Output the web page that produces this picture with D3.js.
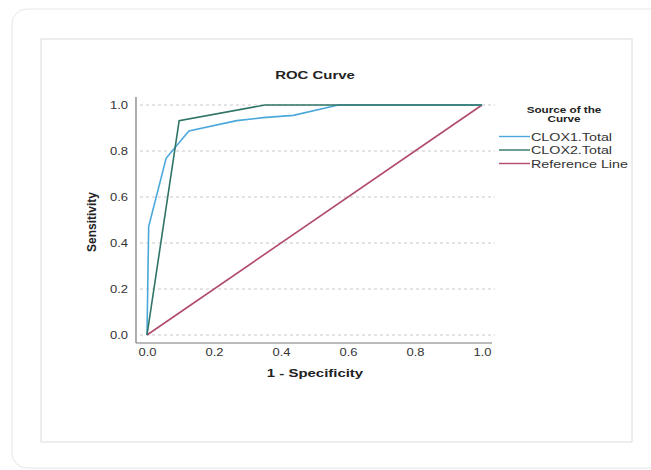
<!DOCTYPE html>
<html>
<head>
<meta charset="utf-8">
<script src="https://cdn.jsdelivr.net/npm/d3@7"></script>
<style>
  body { margin: 0; background: #fff; }
  svg text { font-family: "Liberation Sans", Arial, sans-serif; }
</style>
</head>
<body>
<script>
// data
const ticks = [0, 0.2, 0.4, 0.6, 0.8, 1.0];
const clox1Fpr = [0, 0.005, 0.057, 0.125, 0.268, 0.347, 0.437, 0.571, 1];
const clox1Sens = [0, 0.471, 0.768, 0.887, 0.932, 0.945, 0.955, 1, 1];
const clox2Fpr = [0, 0.096, 0.352, 1];
const clox2Sens = [0, 0.932, 1, 1];
const refFpr = [0, 1];
const refSens = [0, 1];
const seriesNames = ["CLOX1.Total", "CLOX2.Total", "Reference Line"];
const seriesColors = ["#4ba8dc", "#2f7466", "#b24a6c"];

const W = 651, H = 470;
const SX = 1.3; // the screenshot text looks stretched sideways
const svg = d3.select("body").append("svg").attr("width", W).attr("height", H);

// outer card + inner panel
svg.append("rect").attr("x", 12).attr("y", 9).attr("width", 700).attr("height", 459)
  .attr("rx", 15).attr("fill", "#fff").attr("stroke", "#e6e6e6");
svg.append("rect").attr("x", 41).attr("y", 39).attr("width", 591).attr("height", 403)
  .attr("fill", "#fff").attr("stroke", "#dcdcdc");

const x = d3.scaleLinear().domain([0, 1]).range([147, 482]);
const y = d3.scaleLinear().domain([0, 1]).range([335, 105]);

// text helper with sideways stretch
function label(g, tx, ty, str, size, anchor, bold, fill) {
  return g.append("text")
    .attr("transform", `translate(${tx},${ty}) scale(${SX},1)`)
    .attr("text-anchor", anchor).attr("font-size", size)
    .attr("font-weight", bold ? "bold" : "normal")
    .attr("fill", fill || "#222").text(str);
}

// gridlines
svg.append("g").selectAll("line").data(ticks).enter().append("line")
  .attr("x1", 140).attr("x2", 495)
  .attr("y1", d => y(d)).attr("y2", d => y(d))
  .attr("stroke", "#c8c8c8").attr("stroke-dasharray", "3,3");

// axes
const fmt = d3.format(".1f");
const yAxis = svg.append("g").attr("transform", "translate(136,0)")
  .call(d3.axisLeft(y).tickValues(ticks).tickFormat("").tickSize(0));
const xAxis = svg.append("g").attr("transform", "translate(0,343)")
  .call(d3.axisBottom(x).tickValues(ticks).tickFormat("").tickSize(0));
yAxis.select(".domain").remove();
xAxis.select(".domain").remove();
yAxis.selectAll(".tick").each(function(d) {
  label(d3.select(this), -8, 3.5, fmt(d), 10, "end", false, "#333");
});
xAxis.selectAll(".tick").each(function(d) {
  label(d3.select(this), 0, 13, fmt(d), 10, "middle", false, "#333");
});
svg.append("line").attr("x1", 136).attr("x2", 136).attr("y1", 97).attr("y2", 343)
  .attr("stroke", "#777").attr("stroke-width", 1.2);
svg.append("line").attr("x1", 136).attr("x2", 492).attr("y1", 343).attr("y2", 343)
  .attr("stroke", "#777").attr("stroke-width", 1.2);

// curves
const line = d3.line().x(d => x(d[0])).y(d => y(d[1]));
const series = [
  d3.zip(clox1Fpr, clox1Sens),
  d3.zip(clox2Fpr, clox2Sens),
  d3.zip(refFpr, refSens)
];
[2, 0, 1].forEach(i => {
  svg.append("path").datum(series[i]).attr("d", line)
    .attr("fill", "none").attr("stroke", seriesColors[i]).attr("stroke-width", 1.6);
});

// titles
label(svg, 315, 79, "ROC Curve", 11.5, "middle", true);
label(svg, 315, 377, "1 - Specificity", 11.5, "middle", true);
svg.append("text").attr("transform", "translate(96,222) rotate(-90)").attr("text-anchor", "middle")
  .attr("font-size", 12).attr("font-weight", "bold").attr("fill", "#222")
  .style("font-family", "'Liberation Sans Narrow', 'Arial Narrow', sans-serif")
  .text("Sensitivity");

// legend
label(svg, 564, 113, "Source of the", 9, "middle", true);
label(svg, 564, 122, "Curve", 9, "middle", true);
const lg = svg.append("g").selectAll("g").data(seriesNames).enter().append("g")
  .attr("transform", (d, i) => `translate(0,${136.5 + i * 13.5})`);
lg.append("line").attr("x1", 499).attr("x2", 530).attr("stroke", (d, i) => seriesColors[i]).attr("stroke-width", 1.4);
lg.each(function(d) {
  label(d3.select(this), 531, 4, d, 11, "start", false, "#333");
});
</script>
</body>
</html>
